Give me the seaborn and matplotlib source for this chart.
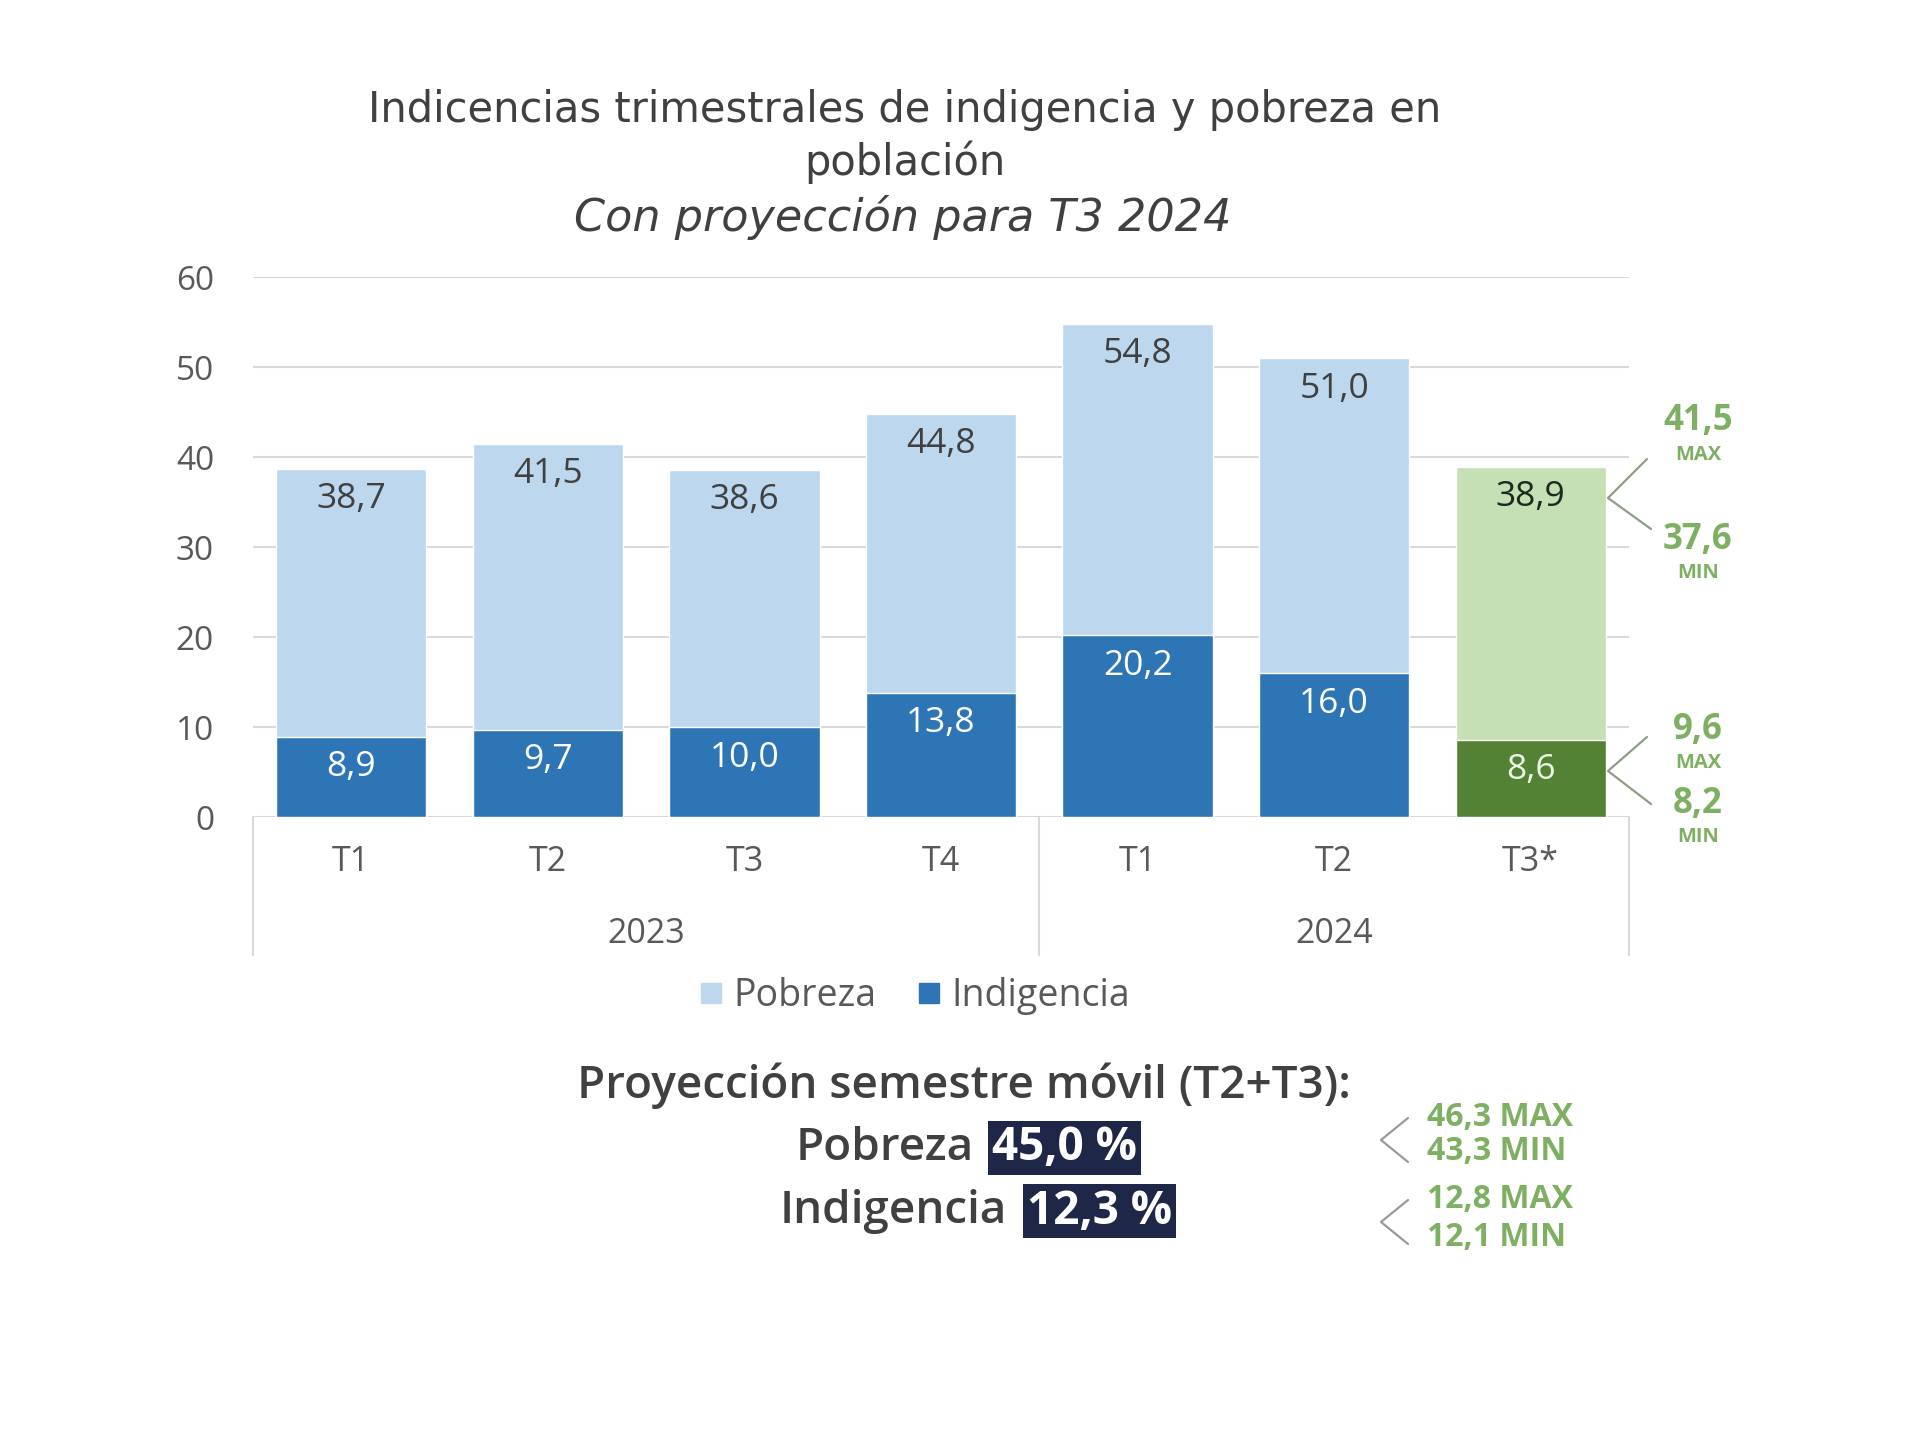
import matplotlib
matplotlib.use("Agg")
import matplotlib.pyplot as plt
from matplotlib.lines import Line2D
import seaborn as sns
import pandas as pd

# ---------------- data ----------------
quarters = ["T1", "T2", "T3", "T4", "T1", "T2", "T3*"]
years = ["2023", "2023", "2023", "2023", "2024", "2024", "2024"]
pobreza = [38.7, 41.5, 38.6, 44.8, 54.8, 51.0, 38.9]
indigencia = [8.9, 9.7, 10.0, 13.8, 20.2, 16.0, 8.6]
proj_pobreza_range = ["41,5", "37,6"]      # max, min for T3* pobreza
proj_indigencia_range = ["9,6", "8,2"]     # max, min for T3* indigencia
semestre_pobreza = "45,0 %"
semestre_indigencia = "12,3 %"
semestre_pobreza_range = ["46,3 MAX", "43,3 MIN"]
semestre_indigencia_range = ["12,8 MAX", "12,1 MIN"]
yticks = [0, 10, 20, 30, 40, 50, 60]

keys = [f"{y} {q}" for y, q in zip(years, quarters)]
df = pd.DataFrame({"key": keys, "pobreza": pobreza, "indigencia": indigencia})

# ---------------- style ----------------
sns.set_theme(style="white")
plt.rcParams["font.family"] = ["Open Sans", "DejaVu Sans"]

C_POB = "#BDD7EE"
C_IND = "#2E75B6"
C_POB_P = "#C5E0B4"
C_IND_P = "#548235"
GREEN_TXT = "#7DB062"
TXT = "#404040"
GRID = "#D9D9D9"

pal_pob = {k: (C_POB_P if "*" in k else C_POB) for k in keys}
pal_ind = {k: (C_IND_P if "*" in k else C_IND) for k in keys}

W, H = 1920, 1440
fig = plt.figure(figsize=(19.2, 14.4), dpi=100)
fig.patch.set_facecolor("white")

def fx(px):
    return px / W

def fy(py):
    return 1 - py / H

ax = fig.add_axes([fx(253), fy(817), fx(1629) - fx(253), fy(277) - fy(817)])

sns.barplot(data=df, x="key", y="pobreza", hue="key", palette=pal_pob,
            order=keys, width=0.765, legend=False, ax=ax, saturation=1)
sns.barplot(data=df, x="key", y="indigencia", hue="key", palette=pal_ind,
            order=keys, width=0.765, legend=False, ax=ax, saturation=1)

ax.set_xlim(-0.5, len(keys) - 0.5)
ax.set_ylim(0, 60)
ax.set_yticks(yticks)
ax.set_yticklabels([str(t) for t in yticks], fontsize=24, color="#595959")
ax.tick_params(axis="y", length=0, pad=28)
ax.set_xticks([])
ax.set_xlabel("")
ax.set_ylabel("")
for s in ax.spines.values():
    s.set_visible(False)
ax.yaxis.grid(True, color=GRID, linewidth=1.5)
ax.set_axisbelow(True)

def fmt(v):
    return f"{v:.1f}".replace(".", ",")

for i, (p, d) in enumerate(zip(pobreza, indigencia)):
    proj = "*" in quarters[i]
    ax.text(i, p - 3.4, fmt(p), ha="center", va="center", fontsize=25.5,
            color="#1E2A1E" if proj else TXT)
    ax.text(i, d - 3.4, fmt(d), ha="center", va="center", fontsize=25.5,
            color="#EAF5E4" if proj else "white")

# category axis (two level)
tr = ax.get_xaxis_transform()
for i, q in enumerate(quarters):
    ax.text(i, -0.084, q, transform=tr, ha="center", va="center",
            fontsize=24.5, color="#595959")
year_groups = {}
for i, y in enumerate(years):
    year_groups.setdefault(y, []).append(i)
for y, idx in year_groups.items():
    ax.text((idx[0] + idx[-1]) / 2, -0.216, y, transform=tr, ha="center",
            va="center", fontsize=24.5, color="#595959")
seps = [-0.5] + [year_groups[y][-1] + 0.5 for y in year_groups]
for s in seps:
    ax.plot([s, s], [0, -0.256], transform=tr, color=GRID, lw=1.5,
            clip_on=False)

# title
TF = ["DejaVu Sans"]
fig.text(fx(905), fy(110), "Indicencias trimestrales de indigencia y pobreza en",
         ha="center", va="center", fontsize=30, color=TXT, family=TF)
fig.text(fx(905), fy(162), "población", ha="center", va="center",
         fontsize=30, color=TXT, family=TF)
fig.text(fx(903), fy(217), "Con proyección para T3 2024", ha="center",
         va="center", fontsize=32, color=TXT, style="italic", family=TF)

# legend
handles = [Line2D([], [], marker="s", ls="", color=C_POB, markersize=14),
           Line2D([], [], marker="s", ls="", color=C_IND, markersize=14)]
fig.legend(handles, ["Pobreza", "Indigencia"], loc="center",
           bbox_to_anchor=(fx(913), fy(996)), ncol=2, frameon=False,
           fontsize=27, handletextpad=0.2, columnspacing=1.0,
           labelcolor="#595959", handlelength=0.8)

# right side projection ranges
def chevron(x0, y0, xt, yt, x1, y1, color):
    fig.add_artist(Line2D([fx(x0), fx(xt), fx(x1)], [fy(y0), fy(yt), fy(y1)],
                          color=color, lw=1.6, transform=fig.transFigure))

def big_small(xc, y_num, y_lab, num, lab):
    fig.text(fx(xc), fy(y_num), num, ha="center", va="center", fontsize=25,
             color=GREEN_TXT, fontweight="bold")
    fig.text(fx(xc), fy(y_lab), lab, ha="center", va="center", fontsize=14.5,
             color=GREEN_TXT, fontweight="bold")

big_small(1698, 421, 455, proj_pobreza_range[0], "MAX")
big_small(1698, 540, 573, proj_pobreza_range[1], "MIN")
big_small(1698, 730, 763, proj_indigencia_range[0], "MAX")
big_small(1698, 804, 837, proj_indigencia_range[1], "MIN")
chevron(1647, 459, 1608, 498, 1651, 529, "#8E9E86")
chevron(1647, 737, 1608, 771, 1651, 804, "#8E9E86")

# bottom summary
fig.text(fx(964), fy(1086), "Proyección semestre móvil (T2+T3):", ha="center",
         va="center", fontsize=33, color=TXT, fontweight="semibold")
fig.text(fx(974), fy(1148), "Pobreza", ha="right", va="center", fontsize=33,
         color=TXT, fontweight="semibold")
fig.text(fx(992), fy(1148), semestre_pobreza, ha="left", va="center",
         fontsize=33, color="white", fontweight="bold",
         bbox=dict(boxstyle="square,pad=0.08", fc="#1F2749", ec="none"))
fig.text(fx(1007), fy(1211), "Indigencia", ha="right", va="center", fontsize=33,
         color=TXT, fontweight="semibold")
fig.text(fx(1027), fy(1211), semestre_indigencia, ha="left", va="center",
         fontsize=33, color="white", fontweight="bold",
         bbox=dict(boxstyle="square,pad=0.08", fc="#1F2749", ec="none"))

fig.text(fx(1427), fy(1118), semestre_pobreza_range[0], ha="left", va="center",
         fontsize=23, color=GREEN_TXT, fontweight="bold")
fig.text(fx(1427), fy(1151), semestre_pobreza_range[1], ha="left", va="center",
         fontsize=23, color=GREEN_TXT, fontweight="bold")
fig.text(fx(1427), fy(1200), semestre_indigencia_range[0], ha="left",
         va="center", fontsize=23, color=GREEN_TXT, fontweight="bold")
fig.text(fx(1427), fy(1237), semestre_indigencia_range[1], ha="left",
         va="center", fontsize=23, color=GREEN_TXT, fontweight="bold")
chevron(1408, 1118, 1381, 1140, 1408, 1162, "#9A9A9A")
chevron(1408, 1200, 1381, 1222, 1408, 1244, "#9A9A9A")

fig.savefig("out.png", dpi=100, facecolor="white")
